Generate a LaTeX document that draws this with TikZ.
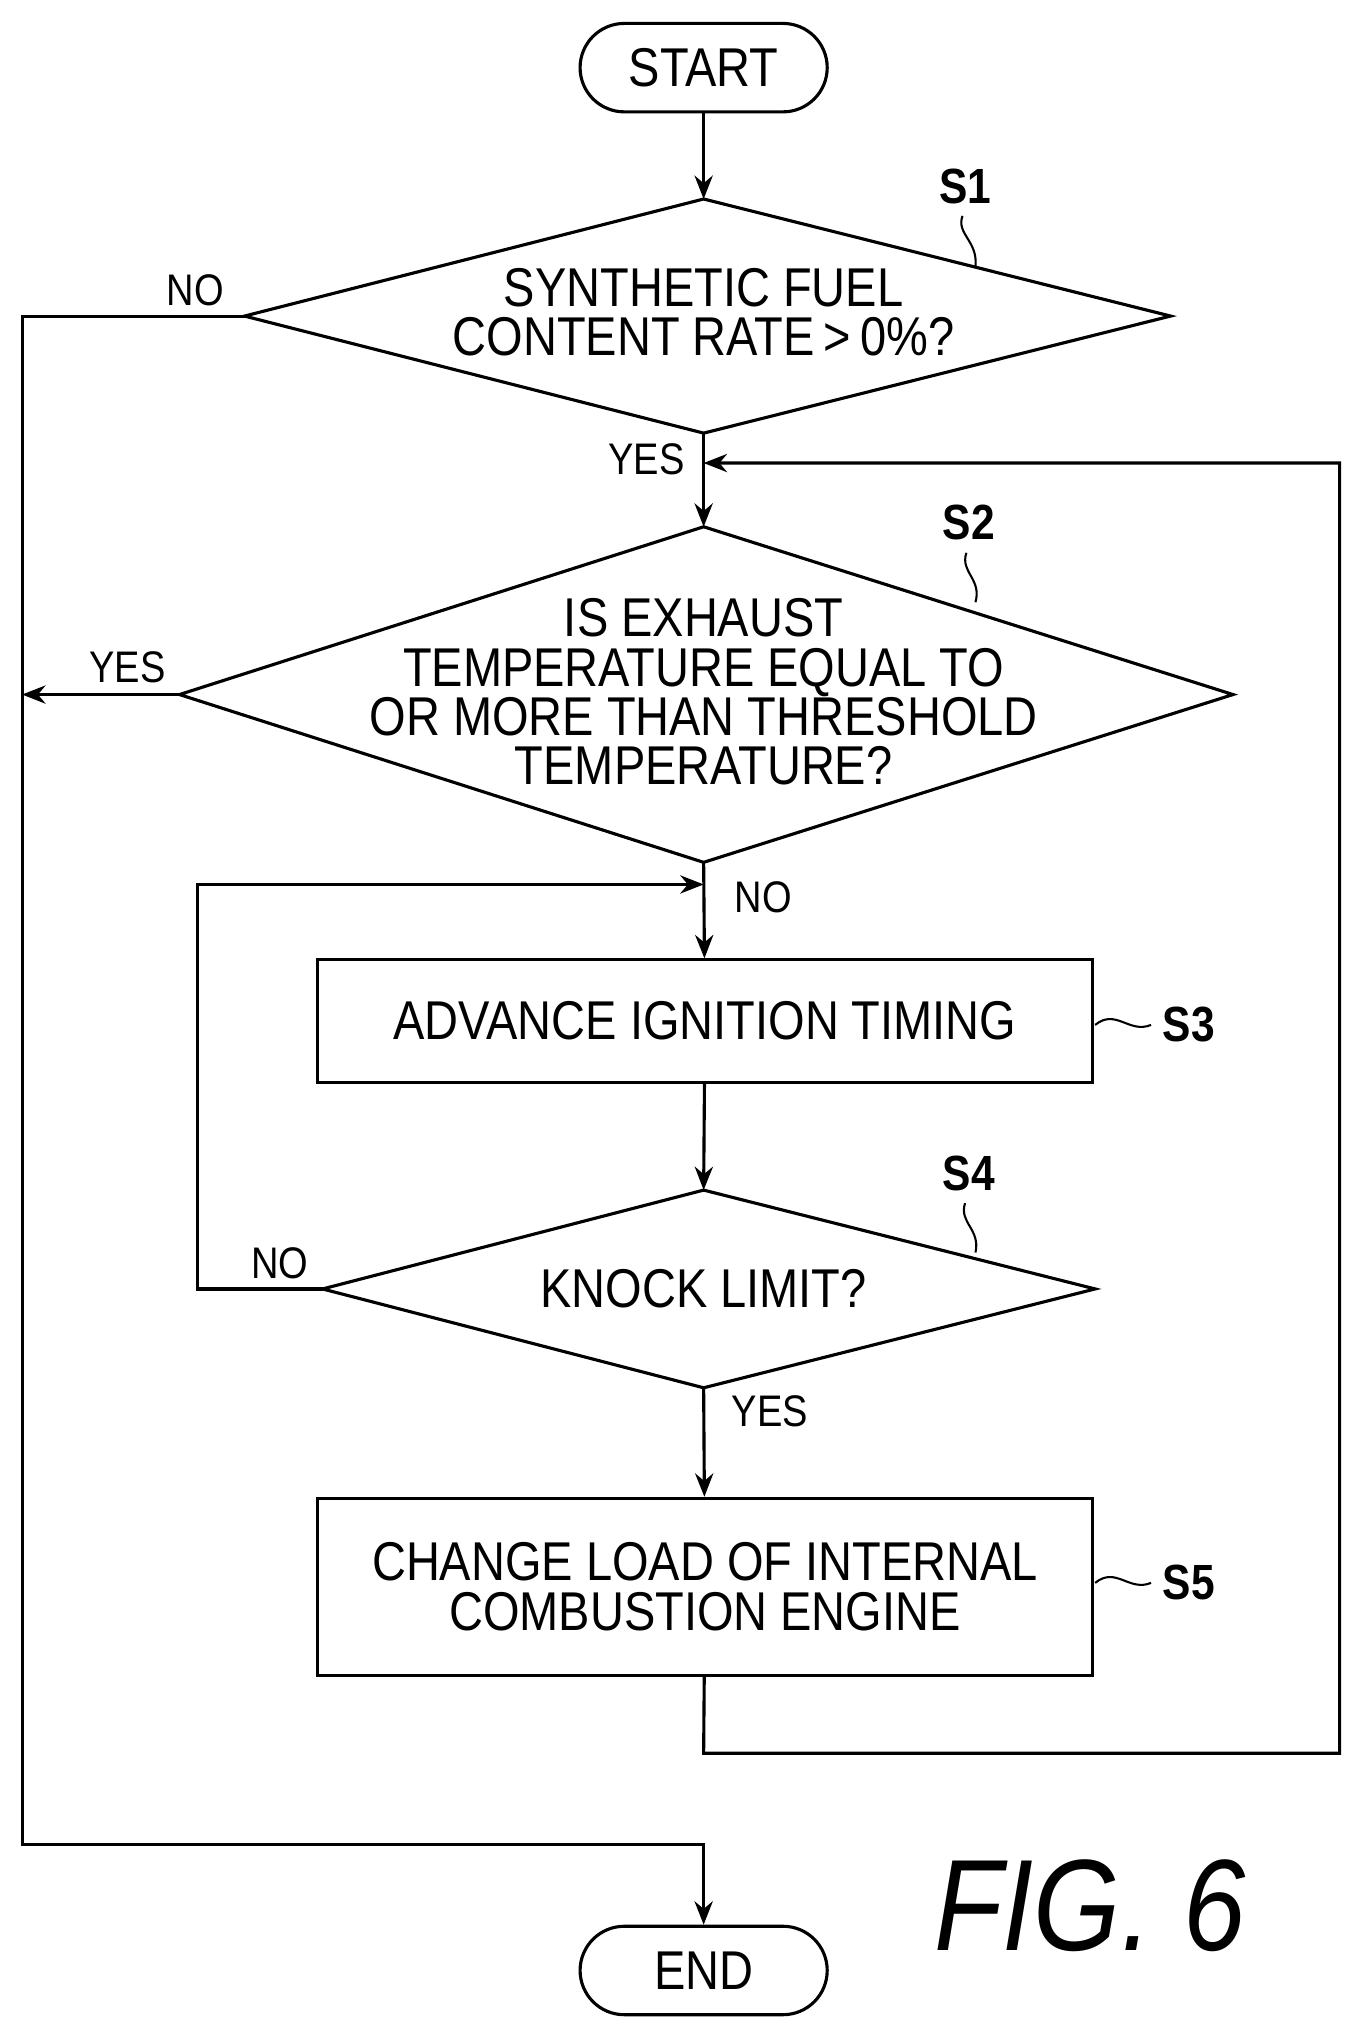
\documentclass[tikz,border=0pt]{standalone}
\usepackage{fontspec}
\setmainfont{Liberation Sans}[FakeStretch=0.86]
\usetikzlibrary{arrows.meta}
\begin{document}
\begin{tikzpicture}[x=0.5pt,y=-0.5pt,
  every path/.style={line width=1.2pt},
  >={Stealth[length=9pt,width=7pt]},
  txt/.style={font=\fontsize{21}{19}\selectfont,align=center,inner sep=0pt},
  lab/.style={font=\fontsize{17}{18}\selectfont,inner sep=0pt},
  stp/.style={font=\bfseries\fontsize{19}{20}\selectfont,inner sep=0pt},
  term/.style={draw,rounded corners=17pt,minimum width=95pt,minimum height=34pt,txt},
  box/.style={draw,minimum width=298pt,txt}]
\useasboundingbox (0,0) rectangle (1048,1570);
\node[term] (start) at (541,52) {START};
\node[term] (end) at (541,1515) {END};
% S1
\coordinate (s1t) at (541,153); \coordinate (s1b) at (541,333);
\coordinate (s1l) at (188,243); \coordinate (s1r) at (900,243);
\draw (s1t)--(s1r)--(s1b)--(s1l)--cycle;
\node[txt] (s1) at (541,240) {SYNTHETIC FUEL\\CONTENT RATE\,>\,0\%?};
% S2
\coordinate (s2t) at (541,405); \coordinate (s2b) at (541,663);
\coordinate (s2l) at (138,534); \coordinate (s2r) at (948,534);
\draw (s2t)--(s2r)--(s2b)--(s2l)--cycle;
\node[txt] (s2) at (541,532) {IS EXHAUST\\TEMPERATURE EQUAL TO\\OR MORE THAN THRESHOLD\\TEMPERATURE?};
% S3
\node[box,minimum height=47pt] (s3) at (542,785) {ADVANCE IGNITION TIMING};
% S4
\coordinate (s4t) at (541,915); \coordinate (s4b) at (541,1067);
\coordinate (s4l) at (248,991); \coordinate (s4r) at (842,991);
\draw (s4t)--(s4r)--(s4b)--(s4l)--cycle;
\node[txt] (s4) at (541,991) {KNOCK LIMIT?};
% S5
\node[box,minimum height=68pt] (s5) at (542,1220) {CHANGE LOAD OF INTERNAL\\COMBUSTION ENGINE};
% connectors
\draw[->] (start) -- (s1t);
\draw[->] (s1b) -- (s2t);
\draw[->] (s2b) -- (s3);
\draw[->] (s3) -- (s4t);
\draw[->] (s4b) -- (s5);
\coordinate (lx) at (17,1418);
\draw[->] (s1l) -- (17,243) -- (lx) -- (541,1418) -- (end);
\draw[->] (s2l) -- (17,534);
\coordinate (n3) at (541,680);
\draw[->] (s4l) -- (152,991) -- (152,680) -- (n3);
\coordinate (n2) at (541,356);
\draw[->] (s5) -- (541,1348) -- (1030,1348) -- (1030,356) -- (n2);
% labels
\node[lab] at (150,223) {NO};
\node[lab] at (497,353) {YES};
\node[lab] at (98,513) {YES};
\node[lab] at (587,690) {NO};
\node[lab] at (215,971) {NO};
\node[lab] at (592,1085) {YES};
\node[stp] (l1) at (742,143) {S1};
\node[stp] (l2) at (745,402) {S2};
\node[stp] (l3) at (914,788) {S3};
\node[stp] (l4) at (745,902) {S4};
\node[stp] (l5) at (914,1217) {S5};
\draw[line width=0.8pt] (740,166) .. controls (735,180) and (752,185) .. (750,205);
\draw[line width=0.8pt] (743,425) .. controls (738,440) and (755,445) .. (750,463);
\draw[line width=0.8pt] (742,925) .. controls (737,940) and (754,945) .. (750,963);
\draw[line width=0.8pt] (842,788) .. controls (858,775) and (868,795) .. (885,788);
\draw[line width=0.8pt] (842,1217) .. controls (858,1204) and (868,1224) .. (885,1217);
\node[font=\itshape\fontsize{50}{50}\selectfont,inner sep=0pt] (fig) at (838,1465) {FIG. 6};
\end{tikzpicture}
\end{document}
